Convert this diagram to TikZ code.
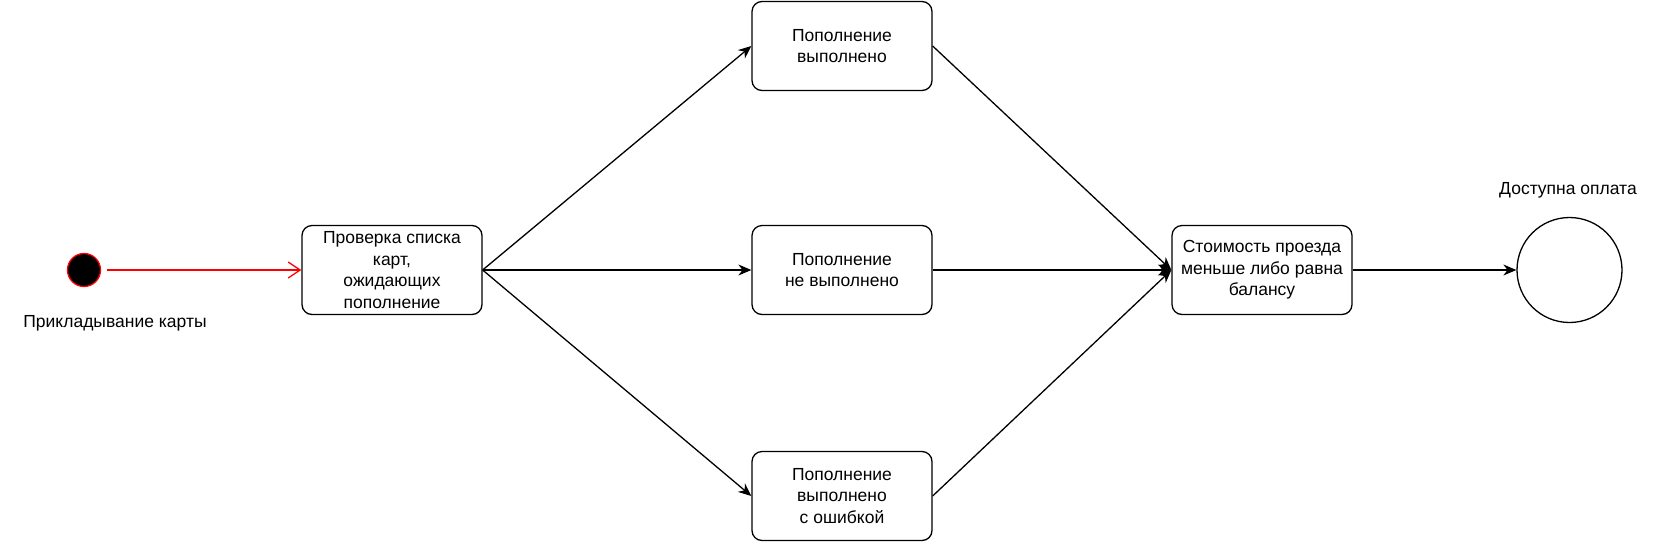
\documentclass[tikz,border=0pt]{standalone}
\usepackage{fontspec}
\setmainfont{Liberation Sans}
\usetikzlibrary{arrows.meta, positioning}

\begin{document}
\begin{tikzpicture}[
    x=1pt, y=-1pt,
    every node/.style={font=\fontsize{17.5}{21.5}\selectfont},
    state/.style={draw, rounded corners=10pt, line width=1.3pt, minimum width=180pt, minimum height=89pt, align=center, inner sep=2pt},
    flow/.style={-{Stealth[length=13pt,width=11pt]}, line width=1.3pt},
    start/.style={circle, draw=red, fill=black, minimum size=33pt, inner sep=0pt, line width=1.3pt},
    stop/.style={circle, draw, minimum size=105pt, inner sep=0pt, line width=1.3pt}
]
\useasboundingbox (0,0) rectangle (1660,542);
\node[start] (init) at (84,270) {};
\node (initlabel) at (115,323) {Прикладывание карты};
\node[state] (check) at (392,270) {Проверка списка\\карт,\\ожидающих\\пополнение};
\node[state] (done) at (842,46) {Пополнение\\выполнено};
\node[state] (notdone) at (842,270) {Пополнение\\не выполнено};
\node[state] (error) at (842,496) {Пополнение\\выполнено\\с ошибкой};
\node[state] (cost) at (1262,270) {Стоимость проезда\\меньше либо равна\\балансу};
\node[stop] (final) at (1569.5,270) {};
\node (finallabel) at (1568,190) {Доступна оплата};

\draw[red, line width=1.3pt, shorten <=6pt, -{Straight Barb[length=12pt,width=16pt]}] (init) -- (check);
\draw[flow] (check.east) -- (done.west);
\draw[flow] (check.east) -- (notdone.west);
\draw[flow] (check.east) -- (error.west);
\draw[flow] (done.east) -- (cost.west);
\draw[flow] (notdone.east) -- (cost.west);
\draw[flow] (error.east) -- (cost.west);
\draw[flow] (cost) -- (final);
\end{tikzpicture}
\end{document}
